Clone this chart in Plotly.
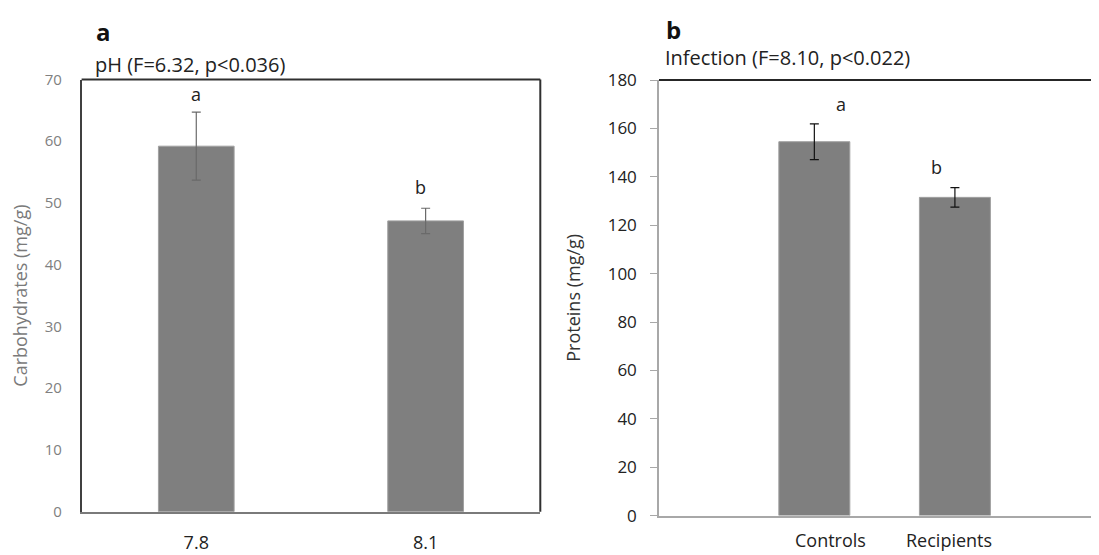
import plotly.graph_objects as go

# ---- data ----
ph_levels = ["7.8", "8.1"]
carb_mean = [59.2, 47.1]
carb_err = [5.5, 2.05]
carb_letters = ["a", "b"]

groups = ["Controls", "Recipients"]
prot_mean = [154.5, 131.5]
prot_err = [7.4, 4.0]
prot_letters = ["a", "b"]

# page body has an 8px margin; size the figure to fill the rest of the window
OFF = 8
W, H = 1099 - OFF, 555 - OFF
def px(x):
    return (x - OFF) / W
def py(y):
    return 1 - (y - OFF) / H

FONT = "Open Sans"
BAR = "#7f7f7f"

fig = go.Figure()
fig.add_trace(go.Bar(
    x=ph_levels, y=carb_mean, width=0.33,
    marker=dict(color=BAR, line=dict(color="#a0a0a0", width=1)),
    error_y=dict(type="data", array=carb_err, color="#6a6a6a", thickness=1.2, width=4.5),
    xaxis="x", yaxis="y", showlegend=False, hoverinfo="skip"))
fig.add_trace(go.Bar(
    x=groups, y=prot_mean, width=0.505,
    marker=dict(color=BAR, line=dict(color="#a0a0a0", width=1)),
    error_y=dict(type="data", array=prot_err, color="#111111", thickness=1.2, width=4.5),
    xaxis="x2", yaxis="y2", showlegend=False, hoverinfo="skip"))

dom1x = [px(81.6), px(540.3)]
dom1y = [py(511.7), py(79.5)]
dom2x = [px(659), 1.0]
dom2y = [py(515.6), py(80)]

fig.update_layout(
    width=W, height=H, margin=dict(l=0, r=0, t=0, b=0, autoexpand=False),
    paper_bgcolor="white", plot_bgcolor="white",
    font=dict(family=FONT, color="#222"),
    xaxis=dict(domain=dom1x, anchor="y", type="category", range=[-0.5, 1.5],
               automargin=False,
               showline=True, linecolor="#7a7a7a", linewidth=2, showgrid=False,
               ticks="", tickfont=dict(size=18, color="#222"), ticklabelstandoff=14),
    yaxis=dict(domain=dom1y, anchor="x", range=[0, 70], dtick=10, automargin=False,
               showline=True, linecolor="#404040", linewidth=1.5, showgrid=False,
               zeroline=False, ticks="", tickfont=dict(size=15, color="#808080"),
               ticklabelstandoff=15,
               title=dict(text="Carbohydrates (mg/g)", font=dict(size=18, color="#7a7a7a"),
                          standoff=14)),
    xaxis2=dict(domain=dom2x, anchor="y2", type="category", range=[-1.105, 2.025],
                automargin=False,
                showline=True, linecolor="#a8a8a8", linewidth=2, showgrid=False,
                ticks="", showticklabels=False),
    yaxis2=dict(domain=dom2y, anchor="x2", range=[0, 180], dtick=20, automargin=False,
                showline=True, linecolor="#a8a8a8", linewidth=1.5, showgrid=False,
                zeroline=False, ticks="outside", ticklen=7, tickcolor="#a8a8a8",
                tickfont=dict(size=17, color="#222"), ticklabelstandoff=10,
                title=dict(text="Proteins (mg/g)", font=dict(size=18, color="#333"),
                           standoff=22)),
)

# frame lines
fig.add_shape(type="line", xref="x domain", yref="y domain", x0=0, x1=1, y0=1, y1=1,
              line=dict(color="#303030", width=2))
fig.add_shape(type="line", xref="x domain", yref="y domain", x0=1, x1=1, y0=0, y1=1,
              line=dict(color="#303030", width=2))
fig.add_shape(type="line", xref="x2 domain", yref="y2 domain", x0=0, x1=1, y0=1, y1=1,
              line=dict(color="#262626", width=2))

# significance letters
l_shift = [0, -5]
l_y = [18, 21]
for i, (m, e, t) in enumerate(zip(carb_mean, carb_err, carb_letters)):
    fig.add_annotation(x=i, y=m + e, xref="x", yref="y", text=t, showarrow=False,
                       yanchor="middle", yshift=l_y[i], xshift=l_shift[i],
                       font=dict(size=18, color="#222", family=FONT))
r_shift = [27, -18]
r_y = [20, 21]
for i, (m, e, t) in enumerate(zip(prot_mean, prot_err, prot_letters)):
    fig.add_annotation(x=i, y=m + e, xref="x2", yref="y2", text=t, showarrow=False,
                       yanchor="middle", yshift=r_y[i], xshift=r_shift[i],
                       font=dict(size=18, color="#222", family=FONT))

# x labels of right panel (offset as in original)
lab_shift = [16, -6]
for i, c in enumerate(groups):
    fig.add_annotation(x=i, y=0, xref="x2", yref="y2", text=c, showarrow=False,
                       yanchor="middle", yshift=-24, xshift=lab_shift[i],
                       font=dict(size=18, color="#222", family=FONT))

# panel labels and subtitles
fig.add_annotation(x=px(94), y=py(31), xref="paper", yref="paper", text="<b>a</b>",
                   showarrow=False, xanchor="left", yanchor="middle",
                   font=dict(size=24, color="#111", family=FONT))
fig.add_annotation(x=px(93), y=py(65), xref="paper", yref="paper",
                   text="pH (F=6.32, p<0.036)", showarrow=False, xanchor="left",
                   yanchor="middle", font=dict(size=20, color="#222", family=FONT))
fig.add_annotation(x=px(664), y=py(30), xref="paper", yref="paper", text="<b>b</b>",
                   showarrow=False, xanchor="left", yanchor="middle",
                   font=dict(size=24, color="#111", family=FONT))
fig.add_annotation(x=px(663), y=py(57), xref="paper", yref="paper",
                   text="Infection (F=8.10, p<0.022)", showarrow=False, xanchor="left",
                   yanchor="middle", font=dict(size=20, color="#222", family=FONT))

fig.write_html("out.html")
